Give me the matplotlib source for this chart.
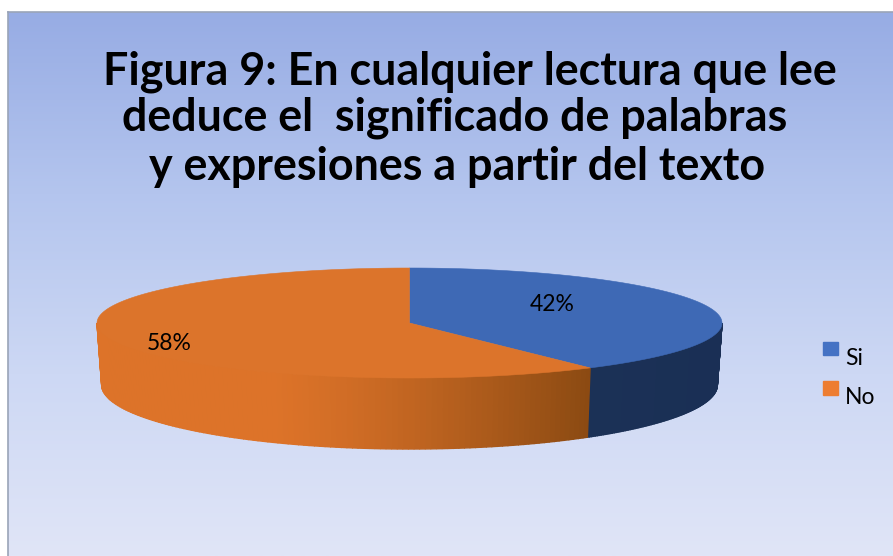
import matplotlib
matplotlib.use('Agg')
import matplotlib.pyplot as plt
from matplotlib.colors import LinearSegmentedColormap, to_rgb
from matplotlib.patches import Patch
import numpy as np

# Datos
categorias = ['Si', 'No']
valores = [42, 58]
titulo = ['Figura 9: En cualquier lectura que lee',
          'deduce el  significado de palabras',
          'y expresiones a partir del texto']

W, H = 893, 556
plt.rcParams['font.family'] = ['Lato', 'DejaVu Sans']


def px_ax(fig, x0, y0, x1, y1):
    # ejes colocados en pixeles de la imagen (y hacia abajo)
    return fig.add_axes([x0 / W, 1 - y1 / H, (x1 - x0) / W, (y1 - y0) / H])


def mezcla(c0, c1, t):
    return tuple(a + (b - a) * t for a, b in zip(to_rgb(c0), to_rgb(c1)))


def pantalla(theta):
    # angulo real -> angulo en pantalla (perspectiva del grafico 3D)
    return theta + np.radians(7.7) * np.sin(2 * theta)


fig = plt.figure(figsize=(W / 100, H / 100), dpi=100, facecolor='white')

# Fondo con degradado
bg = px_ax(fig, 8, 12, W, H)
cmap = LinearSegmentedColormap.from_list('fondo', ['#97ace4', '#b4c5ee', '#cdd8f4', '#e0e5f7'])
bg.imshow(np.linspace(0, 1, 256)[:, None], aspect='auto', cmap=cmap)
bg.set_xticks([])
bg.set_yticks([])
for lado in ['right', 'bottom']:
    bg.spines[lado].set_visible(False)
for lado in ['left', 'top']:
    bg.spines[lado].set_color('#9aa4b8')
    bg.spines[lado].set_linewidth(1.2)

# Torta: la elipse superior ocupa estos pixeles
ax = px_ax(fig, 97, 268, 722, 378)
ax.set_xlim(-1, 1)
ax.set_ylim(-1, 1)
ax.axis('off')

limite = pantalla(2 * np.pi * valores[0] / sum(valores))

# Pared lateral: elipse inferior algo mas estrecha y mas abierta
rx_b, cy_b, ry_b = 0.985, -1.127, 1.164


def pared(a0, a1, color_fn, n=120):
    a = np.linspace(a0, a1, n + 1)
    for i in range(n):
        th = a[i:i + 2]
        xs = np.r_[np.sin(th), rx_b * np.sin(th[::-1])]
        ys = np.r_[np.cos(th), cy_b + ry_b * np.cos(th[::-1])]
        c = color_fn(np.sin(th.mean()))
        ax.fill(xs, ys, color=c, lw=1.0, clip_on=False, zorder=2)


x_lim = np.sin(limite)
pared(np.pi / 2, limite, lambda x: mezcla('#1a2f55', '#1b3156', (1 - x) / (1 - x_lim)))
pared(limite, 3 * np.pi / 2,
      lambda x: mezcla('#dd7329', '#8b4a12', max(0, (x + 0.45) / (x_lim + 0.45)) ** 1.3))

# Cara superior
colores = ['#3e69b5', '#dc742b']
ang = np.cumsum([0] + valores) / sum(valores) * 2 * np.pi
for i in range(len(valores)):
    th = pantalla(np.linspace(ang[i], ang[i + 1], 200))
    ax.fill(np.r_[0, np.sin(th)], np.r_[0, np.cos(th)], color=colores[i], lw=0.4,
            clip_on=False, zorder=3)

# Etiquetas de porcentaje
pos_etq = [(0.458, 0.345), (-0.77, -0.38)]
for v, (x, y) in zip(valores, pos_etq):
    ax.text(x, y, f'{v}%', ha='center', va='center', fontsize=16.5, color='black', zorder=5)

# Titulo
for linea, xc, yc in zip(titulo, [470, 455, 457], [72, 118, 167]):
    fig.text(xc / W, 1 - yc / H, linea, ha='center', va='center', fontsize=32.3,
             fontweight='bold', color='black')

# Leyenda
handles = [Patch(color=c) for c in ['#4472c4', '#ed7d31']]
leg = fig.legend(handles, categorias, loc='center left', bbox_to_anchor=(823 / W, 1 - 370 / H),
                 frameon=False, fontsize=16.5, handlelength=0.65, handleheight=0.52,
                 handletextpad=0.3, labelspacing=0.8, borderpad=0, borderaxespad=0)
for t in leg.get_texts():
    t.set_y(-8)

plt.savefig('out.png', dpi=100)
